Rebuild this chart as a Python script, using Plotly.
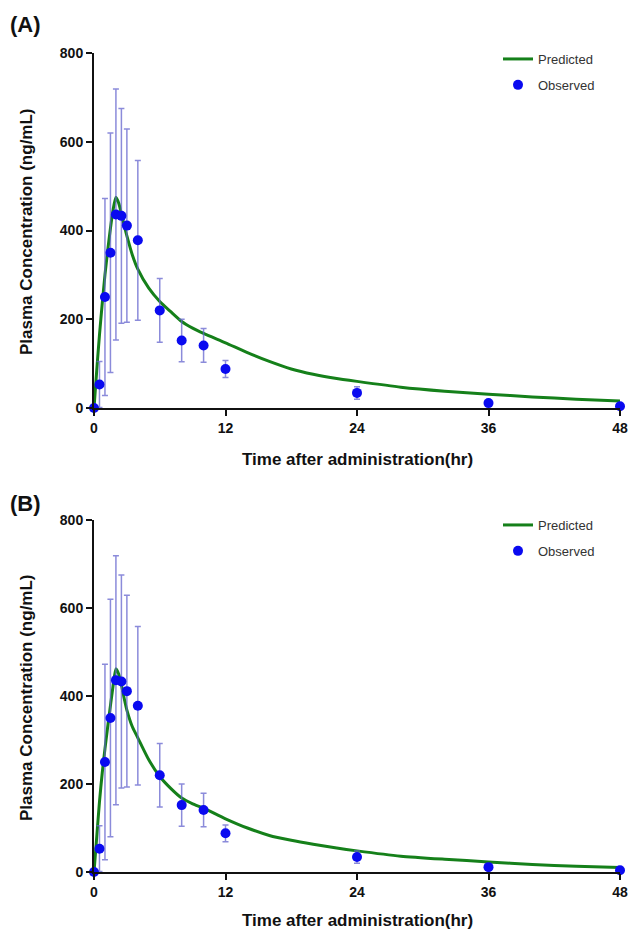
import plotly.graph_objects as go

# ---------------- data ----------------
time_obs = [0, 0.5, 1, 1.5, 2, 2.5, 3, 4, 6, 8, 10, 12, 24, 36, 48]
conc_obs = [0, 53, 250, 350, 436, 433, 411, 378, 220, 152, 141, 88, 34, 11, 4]
sd_obs = [0, 52, 222, 270, 283, 242, 218, 180, 72, 48, 38, 19, 14, 6, 2]

time_pred = [0, 0.25, 0.5, 0.75, 1, 1.25, 1.5, 1.75, 2, 2.25, 2.5, 2.75, 3, 3.5, 4,
             5, 6, 7, 8, 9, 10, 12, 14, 16, 18, 20, 22, 24, 28, 32, 36, 40, 44, 48]
pred_A = [0, 85, 165, 235, 300, 355, 405, 448, 475, 462, 438, 412, 388, 345, 313,
          270, 240, 217, 195, 180, 168, 147, 125, 105, 88, 76, 67, 60, 47, 38, 31, 25, 20, 16]
pred_B = [0, 80, 160, 225, 280, 330, 378, 425, 462, 450, 425, 395, 368, 330, 305,
          255, 217, 190, 168, 155, 145, 121, 100, 83, 72, 63, 55, 48, 36, 29, 23, 17, 13, 10]

x_ticks = [0, 12, 24, 36, 48]
y_ticks = [0, 200, 400, 600, 800]
panel_labels = ["(A)", "(B)"]
x_title = "Time after administration(hr)"
y_title = "Plasma Concentration (ng/mL)"

# ---------------- style ----------------
W, H = 629, 934
GREEN = "#15801a"
BLUE = "#0a0af0"
ERR = "rgba(100,100,205,0.75)"
FONT = "Liberation Sans, Arial, sans-serif"

fig = go.Figure()

panels = [
    dict(pred=pred_A, xa="x", ya="y", legend="legend"),
    dict(pred=pred_B, xa="x2", ya="y2", legend="legend2"),
]

for i, p in enumerate(panels):
    fig.add_trace(go.Scatter(
        x=time_pred, y=p["pred"], mode="lines", name="Predicted",
        line=dict(color=GREEN, width=3, shape="spline", smoothing=0.6),
        xaxis=p["xa"], yaxis=p["ya"],
        legend=p["legend"], legendgroup=f"pred{i}", cliponaxis=False,
    ))
    fig.add_trace(go.Scatter(
        x=time_obs, y=conc_obs, mode="markers", name="Observed",
        marker=dict(color=BLUE, size=10),
        error_y=dict(type="data", array=sd_obs, visible=True,
                     color=ERR, thickness=1.5, width=3),
        xaxis=p["xa"], yaxis=p["ya"], legend=p["legend"],
        legendgroup=f"obs{i}", cliponaxis=False,
    ))

px_x0, px_x1 = 94, 620
domA = [1 - 408 / H, 1 - 53 / H]
domB = [1 - 872 / H, 1 - 520 / H]
xdom = [px_x0 / W, px_x1 / W]

axis_common = dict(
    showline=True, linecolor="#111", linewidth=2, showgrid=False, zeroline=False,
    ticks="outside", ticklen=6, tickwidth=2, tickcolor="#111", automargin=False,
    tickfont=dict(family=FONT, size=14, color="#111", weight="bold"),
)

fig.update_layout(
    width=W, height=H, margin=dict(l=0, r=0, t=0, b=0, autoexpand=False),
    paper_bgcolor="white", plot_bgcolor="white",
    xaxis=dict(domain=xdom, anchor="y", range=[0, 48], tickvals=x_ticks, **axis_common),
    yaxis=dict(domain=domA, anchor="x", range=[0, 800], tickvals=y_ticks, **axis_common),
    xaxis2=dict(domain=xdom, anchor="y2", range=[0, 48], tickvals=x_ticks, **axis_common),
    yaxis2=dict(domain=domB, anchor="x2", range=[0, 800], tickvals=y_ticks, **axis_common),
    legend=dict(x=498 / W, y=1 - 44 / H, xanchor="left", yanchor="top",
                font=dict(family=FONT, size=13, color="#333"), tracegroupgap=6,
                bgcolor="rgba(0,0,0,0)"),
    legend2=dict(x=498 / W, y=1 - 510 / H, xanchor="left", yanchor="top",
                 font=dict(family=FONT, size=13, color="#333"), tracegroupgap=6,
                 bgcolor="rgba(0,0,0,0)"),
    showlegend=True,
)

annotations = []
for lbl, ypx in zip(panel_labels, [25, 504]):
    annotations.append(dict(text=lbl, x=8 / W, y=1 - ypx / H, xref="paper", yref="paper",
                            xanchor="left", yanchor="middle", showarrow=False,
                            font=dict(family=FONT, size=22, color="#111", weight="bold")))
for ypx in [460, 920]:
    annotations.append(dict(text=x_title, x=(px_x0 + px_x1) / 2 / W, y=1 - ypx / H,
                            xref="paper", yref="paper", xanchor="center", yanchor="middle",
                            showarrow=False,
                            font=dict(family=FONT, size=17, color="#111", weight="bold")))
for ypx in [232, 698]:
    annotations.append(dict(text=y_title, x=26 / W, y=1 - ypx / H, xref="paper", yref="paper",
                            xanchor="center", yanchor="middle", textangle=-90, showarrow=False,
                            font=dict(family=FONT, size=17, color="#111", weight="bold")))
fig.update_layout(annotations=annotations)

fig.write_html(
    "out.html",
    config={"displayModeBar": False},
    post_script="document.body.style.margin='0';document.body.style.overflow='hidden';",
)
